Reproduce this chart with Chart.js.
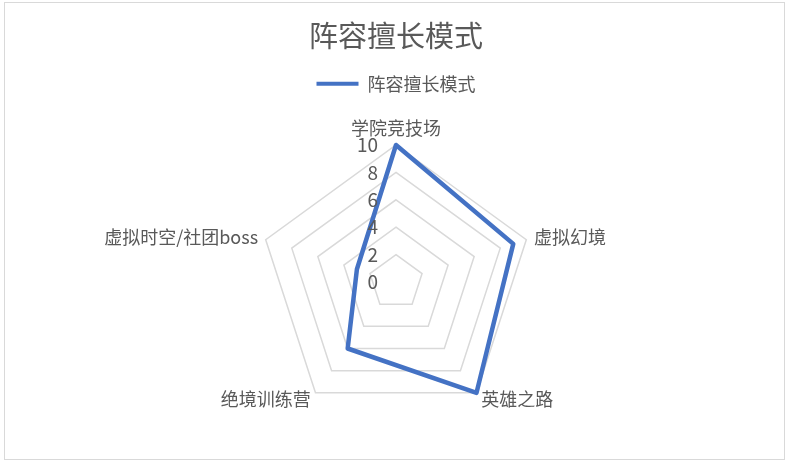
<!DOCTYPE html>
<html>
<head>
<meta charset="utf-8">
<script src="https://cdn.jsdelivr.net/npm/chart.js@4/dist/chart.umd.min.js"></script>
<style>
  body { margin: 0; background: #fff; }
  #wrap { width: 788px; height: 462px; position: relative; }
</style>
</head>
<body>
<div id="wrap"><canvas id="radarChart" width="788" height="462"></canvas></div>
<script>
const categories = ['学院竞技场', '虚拟幻境', '英雄之路', '绝境训练营', '虚拟时空/社团boss'];
const seriesName = '阵容擅长模式';
const seriesValues = [10, 9, 10, 6, 3];
const tickValues = [0, 2, 4, 6, 8, 10];

const font = '"Noto Sans CJK SC", "Noto Sans", sans-serif';
const grey = '#595959';

// frame, tick labels left of the axis, and category labels round the web
const extras = {
    id: 'extras',
    beforeDraw(chart) {
        const c = chart.ctx;
        c.save();
        c.strokeStyle = '#d9d9d9';
        c.lineWidth = 1;
        c.strokeRect(4.5, 2.5, 780, 457);
        c.restore();
    },
    afterDatasetsDraw(chart) {
        const s = chart.scales.r;
        const c = chart.ctx;
        c.save();
        c.fillStyle = grey;

        c.font = '19px ' + font;
        c.textAlign = 'right';
        c.textBaseline = 'middle';
        tickValues.forEach(v => {
            const y = s.yCenter - s.getDistanceFromCenterForValue(v);
            c.fillText(String(v), s.xCenter - 18, y);
        });

        c.font = '18px ' + font;
        categories.forEach((name, i) => {
            const p = s.getPointPosition(i, s.drawingArea + 8);
            const dx = p.x - s.xCenter;
            c.textAlign = Math.abs(dx) < 2 ? 'center' : (dx > 0 ? 'left' : 'right');
            c.textBaseline = i === 0 ? 'bottom' : 'middle';
            c.fillText(name, p.x, p.y);
        });
        c.restore();
    }
};

new Chart(document.getElementById('radarChart'), {
    type: 'radar',
    data: {
        labels: categories,
        datasets: [{
            label: seriesName,
            data: seriesValues,
            borderColor: '#4472C4',
            backgroundColor: '#4472C4',
            borderWidth: 4.5,
            fill: false,
            pointRadius: 0,
            pointHoverRadius: 0,
            borderJoinStyle: 'round'
        }]
    },
    options: {
        responsive: false,
        animation: false,
        layout: { padding: { top: 0, bottom: 0, left: 259, right: 255 } },
        plugins: {
            title: {
                display: true,
                text: seriesName,
                color: grey,
                font: { family: font, size: 29, weight: 'normal' },
                padding: { top: 19, bottom: 11 }
            },
            legend: {
                labels: {
                    color: grey,
                    font: { family: font, size: 18 },
                    boxWidth: 42,
                    boxHeight: 4,
                    padding: 10,
                    generateLabels: chart => [{
                        text: seriesName,
                        fillStyle: '#4472C4',
                        strokeStyle: '#4472C4',
                        lineWidth: 0,
                        fontColor: grey,
                        datasetIndex: 0
                    }]
                }
            },
            tooltip: { enabled: false }
        },
        scales: {
            r: {
                min: 0,
                max: 10,
                ticks: { stepSize: 2, display: false },
                grid: { color: '#d9d9d9', lineWidth: 1.5 },
                angleLines: { display: false },
                pointLabels: { display: false }
            }
        }
    },
    plugins: [extras]
});
</script>
</body>
</html>
